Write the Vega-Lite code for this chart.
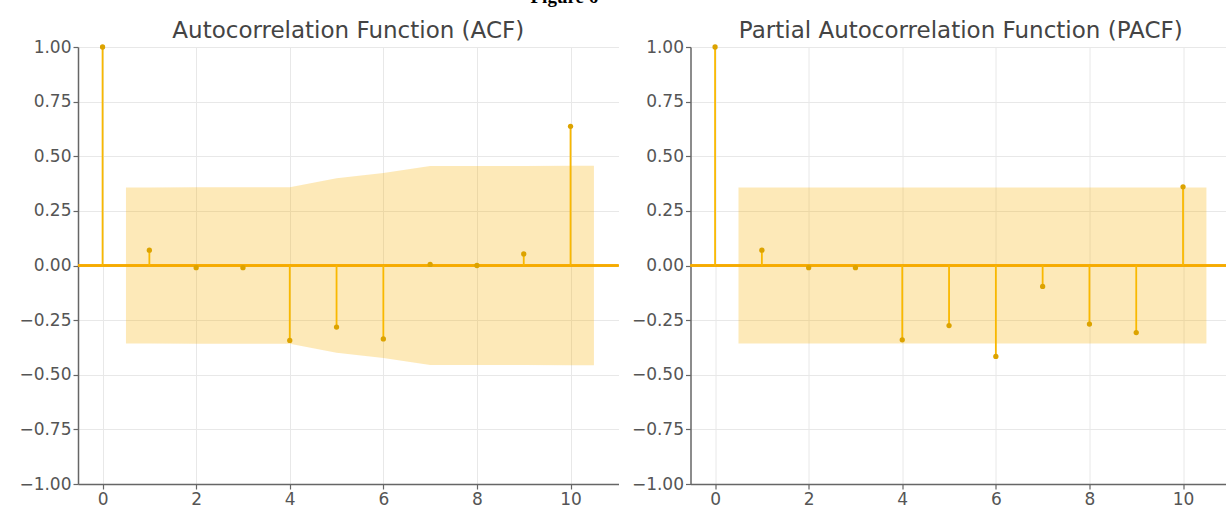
{
  "$schema": "https://vega.github.io/schema/vega-lite/v6.json",
  "autosize": "none",
  "padding": {"left": 78, "top": 47, "right": 1148, "bottom": 465},
  "background": "white",
  "title": {"text": "Figure 6", "font": "Liberation Serif", "fontWeight": "bold", "fontSize": 19, "color": "#000000", "anchor": "middle", "dx": -61, "baseline": "alphabetic", "offset": -2},
  "datasets": {
    "acf": [
      {"lag": 0, "value": 1.0}, {"lag": 1, "value": 0.07}, {"lag": 2, "value": -0.01},
      {"lag": 3, "value": -0.01}, {"lag": 4, "value": -0.343}, {"lag": 5, "value": -0.282},
      {"lag": 6, "value": -0.336}, {"lag": 7, "value": 0.005}, {"lag": 8, "value": 0.0},
      {"lag": 9, "value": 0.053}, {"lag": 10, "value": 0.637}
    ],
    "acfband": [
      {"lag": 0.5, "hi": 0.357, "lo": -0.357}, {"lag": 1, "hi": 0.357, "lo": -0.357},
      {"lag": 2, "hi": 0.358, "lo": -0.358}, {"lag": 3, "hi": 0.358, "lo": -0.358},
      {"lag": 4, "hi": 0.358, "lo": -0.358}, {"lag": 5, "hi": 0.399, "lo": -0.399},
      {"lag": 6, "hi": 0.423, "lo": -0.423}, {"lag": 7, "hi": 0.455, "lo": -0.455},
      {"lag": 8, "hi": 0.455, "lo": -0.455}, {"lag": 9, "hi": 0.455, "lo": -0.455},
      {"lag": 10, "hi": 0.457, "lo": -0.457}, {"lag": 10.5, "hi": 0.457, "lo": -0.457}
    ],
    "pacf": [
      {"lag": 0, "value": 1.0}, {"lag": 1, "value": 0.07}, {"lag": 2, "value": -0.01},
      {"lag": 3, "value": -0.01}, {"lag": 4, "value": -0.34}, {"lag": 5, "value": -0.275},
      {"lag": 6, "value": -0.416}, {"lag": 7, "value": -0.096}, {"lag": 8, "value": -0.268},
      {"lag": 9, "value": -0.307}, {"lag": 10, "value": 0.36}
    ],
    "pacfband": [
      {"lag": 0.5, "hi": 0.357, "lo": -0.357}, {"lag": 10.5, "hi": 0.357, "lo": -0.357}
    ]
  },
  "config": {
    "view": {"stroke": null},
    "font": "DejaVu Sans",
    "title": {"font": "DejaVu Sans", "fontSize": 23, "fontWeight": "normal", "color": "#444444", "offset": -5},
    "axis": {
      "labelFont": "DejaVu Sans", "labelFontSize": 17, "labelColor": "#555555",
      "domainColor": "#666666", "domainWidth": 1.5, "tickColor": "#666666", "tickSize": 5, "tickWidth": 1.2,
      "gridColor": "#e8e8e8", "gridWidth": 1, "title": null, "labelPadding": 2
    }
  },
  "bounds": "flush",
  "spacing": 71.5,
  "hconcat": [
    {
      "title": "Autocorrelation Function (ACF)",
      "width": 540.5,
      "height": 437,
      "layer": [
        {
          "data": {"name": "acfband"},
          "mark": {"type": "area", "color": "#f9b000", "opacity": 0.28},
          "encoding": {
            "x": {"field": "lag", "type": "quantitative", "scale": {"domain": [-0.525, 11.025], "nice": false, "zero": false}, "axis": {"values": [0, 2, 4, 6, 8, 10], "format": "d"}},
            "y": {"field": "hi", "type": "quantitative", "scale": {"domain": [-1, 1], "nice": false}, "axis": {"values": [-1, -0.75, -0.5, -0.25, 0, 0.25, 0.5, 0.75, 1], "format": ".2f"}},
            "y2": {"field": "lo"}
          }
        },
        {
          "data": {"name": "acf"},
          "mark": {"type": "rule", "color": "#f5ab00", "strokeWidth": 1.6},
          "encoding": {"y": {"datum": 0}}
        },
        {
          "data": {"name": "acf"},
          "mark": {"type": "rule", "color": "#f9b800", "strokeWidth": 1.8},
          "encoding": {
            "x": {"field": "lag", "type": "quantitative"},
            "y": {"field": "value", "type": "quantitative"},
            "y2": {"datum": 0}
          }
        },
        {
          "data": {"name": "acf"},
          "mark": {"type": "point", "filled": true, "color": "#dca300", "opacity": 1, "size": 28},
          "encoding": {
            "x": {"field": "lag", "type": "quantitative"},
            "y": {"field": "value", "type": "quantitative"}
          }
        }
      ]
    },
    {
      "title": "Partial Autocorrelation Function (PACF)",
      "width": 540.5,
      "height": 437,
      "layer": [
        {
          "data": {"name": "pacfband"},
          "mark": {"type": "area", "color": "#f9b000", "opacity": 0.28},
          "encoding": {
            "x": {"field": "lag", "type": "quantitative", "scale": {"domain": [-0.525, 11.025], "nice": false, "zero": false}, "axis": {"values": [0, 2, 4, 6, 8, 10], "format": "d"}},
            "y": {"field": "hi", "type": "quantitative", "scale": {"domain": [-1, 1], "nice": false}, "axis": {"values": [-1, -0.75, -0.5, -0.25, 0, 0.25, 0.5, 0.75, 1], "format": ".2f"}},
            "y2": {"field": "lo"}
          }
        },
        {
          "data": {"name": "pacf"},
          "mark": {"type": "rule", "color": "#f5ab00", "strokeWidth": 1.6},
          "encoding": {"y": {"datum": 0}}
        },
        {
          "data": {"name": "pacf"},
          "mark": {"type": "rule", "color": "#f9b800", "strokeWidth": 1.8},
          "encoding": {
            "x": {"field": "lag", "type": "quantitative"},
            "y": {"field": "value", "type": "quantitative"},
            "y2": {"datum": 0}
          }
        },
        {
          "data": {"name": "pacf"},
          "mark": {"type": "point", "filled": true, "color": "#dca300", "opacity": 1, "size": 28},
          "encoding": {
            "x": {"field": "lag", "type": "quantitative"},
            "y": {"field": "value", "type": "quantitative"}
          }
        }
      ]
    }
  ]
}
